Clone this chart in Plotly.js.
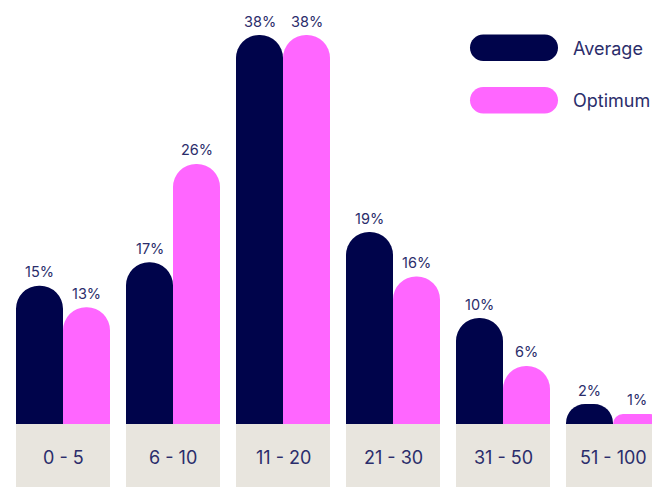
<!DOCTYPE html>
<html>
<head>
<meta charset="utf-8">
<script src="https://cdn.plot.ly/plotly-3.0.1.min.js"></script>
<style>html,body{margin:0;padding:0;background:#fff;}#chart{width:652px;height:487px;}</style>
</head>
<body>
<div id="chart"></div>
<script>
// Data
var categories = ["0 - 5", "6 - 10", "11 - 20", "21 - 30", "31 - 50", "51 - 100"];
var seriesNames = ["Average", "Optimum"];
// bar heights as drawn (in % units)
var averageValues = [13.5, 15.8, 38, 18.75, 10.35, 1.95];
var optimumValues = [11.4, 25.4, 38, 14.4, 5.67, 0.98];
// printed labels
var averageLabels = ["15%", "17%", "38%", "19%", "10%", "2%"];
var optimumLabels = ["13%", "26%", "38%", "16%", "6%", "1%"];

var NAVY = "#00044b";
var PINK = "#ff66ff";
var BEIGE = "#e8e5de";
var TEXT = "#2b2d6b";
var FONT = "Inter, 'DejaVu Sans', sans-serif";

var traces = [
  {type: "bar", name: seriesNames[0], x: categories, y: averageValues,
   marker: {color: NAVY, cornerradius: "50%"}, hoverinfo: "skip"},
  {type: "bar", name: seriesNames[1], x: categories, y: optimumValues,
   marker: {color: PINK, cornerradius: "50%"}, hoverinfo: "skip"}
];

var half = 0.4273;
var shapes = [];
var annotations = [];
categories.forEach(function (c, i) {
  shapes.push({type: "rect", xref: "x", yref: "paper", x0: i - half, x1: i + half,
    y0: 0, y1: -63 / 424, fillcolor: BEIGE, line: {width: 0}, layer: "below"});
  annotations.push({xref: "x", yref: "paper", x: i, y: 0, yshift: -33, yanchor: "middle",
    text: c, showarrow: false, font: {family: FONT, size: 18, color: TEXT}});
  annotations.push({xref: "x", yref: "y", x: i, xshift: -23.5, y: averageValues[i], yshift: 14,
    yanchor: "middle", text: averageLabels[i], showarrow: false,
    font: {family: FONT, size: 14.5, color: TEXT}});
  annotations.push({xref: "x", yref: "y", x: i, xshift: 23.5, y: optimumValues[i], yshift: 14,
    yanchor: "middle", text: optimumLabels[i], showarrow: false,
    font: {family: FONT, size: 14.5, color: TEXT}});
});

function pill(x0, x1, yTop, yBot) {
  var r = (yBot - yTop) / 2, k = 0.5523 * r;
  var t = -yTop, b = -yBot, cy = -(yTop + r);
  return "M" + (x0 + r) + "," + t + " L" + (x1 - r) + "," + t +
    " C" + (x1 - r + k) + "," + t + " " + x1 + "," + (cy + k) + " " + x1 + "," + cy +
    " C" + x1 + "," + (cy - k) + " " + (x1 - r + k) + "," + b + " " + (x1 - r) + "," + b +
    " L" + (x0 + r) + "," + b +
    " C" + (x0 + r - k) + "," + b + " " + x0 + "," + (cy - k) + " " + x0 + "," + cy +
    " C" + x0 + "," + (cy + k) + " " + (x0 + r - k) + "," + t + " " + (x0 + r) + "," + t + " Z";
}
var legendColors = [NAVY, PINK];
seriesNames.forEach(function (n, j) {
  var top = 34.5 + j * 52.5;
  shapes.push({type: "path", xref: "paper", yref: "paper", xsizemode: "pixel", ysizemode: "pixel",
    xanchor: 0, yanchor: 1, path: pill(470, 558, top, top + 26.5),
    fillcolor: legendColors[j], line: {width: 0}});
  annotations.push({xref: "paper", yref: "paper", x: 571 / 652, y: 1, yshift: -(top + 13.5),
    xanchor: "left", yanchor: "middle", text: n, showarrow: false,
    font: {family: FONT, size: 18, color: TEXT}});
});

var layout = {
  width: 652, height: 487,
  margin: {l: 0, r: 0, t: 0, b: 63, pad: 0},
  paper_bgcolor: "#ffffff", plot_bgcolor: "#ffffff",
  barmode: "group", bargap: 0.1455, bargroupgap: 0,
  showlegend: false,
  xaxis: {type: "category", range: [-63 / 110, (652 - 63) / 110], showgrid: false,
    zeroline: false, showline: false, ticks: "", showticklabels: false, fixedrange: true},
  yaxis: {range: [0, 38 * 424 / 389], visible: false, fixedrange: true},
  shapes: shapes,
  annotations: annotations
};

Plotly.newPlot("chart", traces, layout, {displayModeBar: false, staticPlot: true});
</script>
</body>
</html>
